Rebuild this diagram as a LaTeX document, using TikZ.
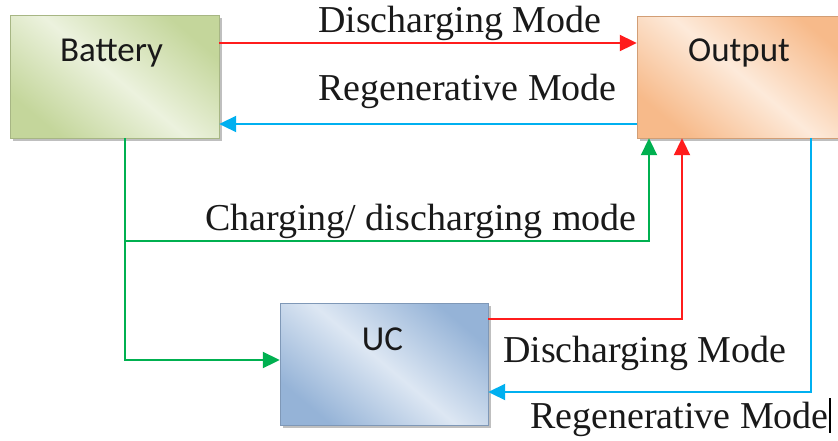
\documentclass[tikz,border=0pt]{standalone}
\usepackage{fontspec}
\setmainfont{Liberation Serif}
\newfontfamily\boxfont{Carlito}
\usetikzlibrary{arrows.meta,shadows}

\definecolor{linkred}{RGB}{255,28,28}
\definecolor{linkblue}{RGB}{0,176,240}
\definecolor{linkgreen}{RGB}{0,176,80}
\definecolor{batdark}{RGB}{196,214,155}
\definecolor{batlight}{RGB}{236,242,222}
\definecolor{outdark}{RGB}{247,186,138}
\definecolor{outlight}{RGB}{253,234,218}
\definecolor{ucdark}{RGB}{149,179,215}
\definecolor{uclight}{RGB}{221,231,243}

\tikzset{
  unit/.style={draw=#1!85!black, line width=0.8pt, inner sep=0pt,
    drop shadow={shadow xshift=3pt, shadow yshift=-3pt, opacity=0.5, fill=gray}},
  batbox/.style={unit=batdark,
    top color=batdark, bottom color=batdark, middle color=batlight, shading angle=-40},
  outbox/.style={unit=outdark,
    top color=outdark, bottom color=outdark, middle color=outlight, shading angle=-40},
  ucbox/.style={unit=ucdark,
    top color=ucdark, bottom color=ucdark, middle color=uclight, shading angle=-40},
  boxlabel/.style={anchor=base, inner sep=0pt, font=\boxfont\fontsize{35}{40}\selectfont, text=black!90},
  modelabel/.style={anchor=base west, inner sep=0pt, font=\fontsize{38}{44}\selectfont, text=black!90},
  link/.style={line width=2pt, -{Triangle[length=17pt,width=16pt]}},
}

\begin{document}
\begin{tikzpicture}[x=1pt,y=-1pt]
  \useasboundingbox (0,0) rectangle (838,440);
  \fill[white] (0,0) rectangle (838,440);

  % blocks
  \path[batbox] (10,15) rectangle (219,138);
  \path[outbox] (637,16) rectangle (850,138);
  \path[ucbox]  (280,303) rectangle (488,425);
  \node[minimum width=209pt, minimum height=123pt, inner sep=0pt] (bat) at (114.5,76.5) {};
  \node[minimum width=213pt, minimum height=122pt, inner sep=0pt] (out) at (743.5,77) {};
  \node[minimum width=208pt, minimum height=122pt, inner sep=0pt] (uc)  at (384,364) {};

  \node[boxlabel] (batlbl) at (111.5,61) {Battery};
  \node[boxlabel] (outlbl) at (739,61) {Output};
  \node[boxlabel] (uclbl)  at (382.5,350) {UC};

  % battery <-> output
  \draw[link, linkred]  (bat.east |- 0,43) -- (out.west |- 0,43);
  \draw[link, linkblue] (out.west |- 0,124) -- (bat.east |- 0,124);

  % battery -> output / UC
  \coordinate (split) at (125,241);
  \draw[link, linkgreen] (bat.south -| 125,0) -- (split) -| (out.south -| 649,0);
  \draw[link, linkgreen] (split) |- (uc.west |- 0,360);

  % UC <-> output
  \draw[link, linkred]  (uc.east |- 0,319) -| (out.south -| 682,0);
  \draw[link, linkblue] (out.south -| 811,0) |- (uc.east |- 0,392);

  % mode labels
  \node[modelabel] (l1) at (318,32)  {Discharging Mode};
  \node[modelabel] (l2) at (318,100) {Regenerative Mode};
  \node[modelabel] (l3) at (205,230) {Charging/ discharging mode};
  \node[modelabel] (l4) at (503,362) {Discharging Mode};
  \node[modelabel] (l5) at (530,428) {Regenerative Mode};

  % text cursor
  \draw[line width=1.6pt, black] (830,398) -- (830,433);
\end{tikzpicture}
\end{document}
